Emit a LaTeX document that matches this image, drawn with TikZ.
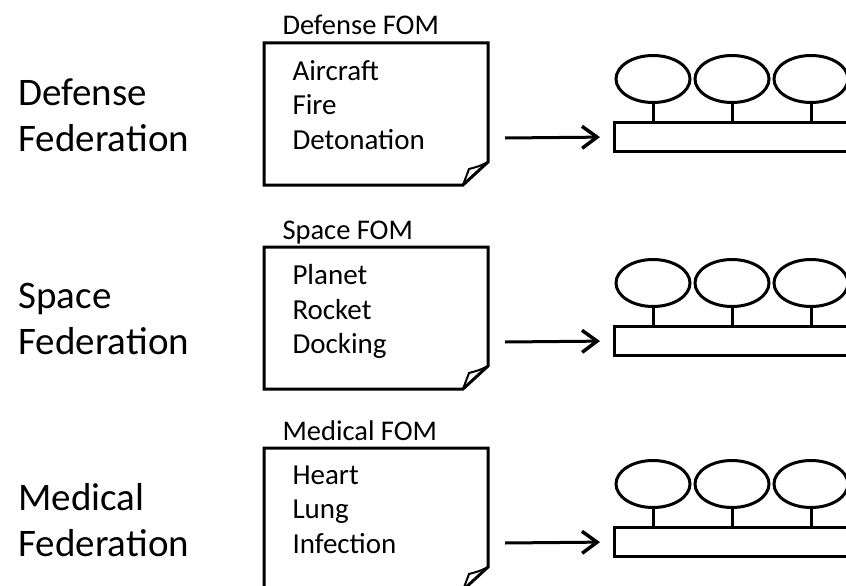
\documentclass[tikz,border=0pt]{standalone}
\usepackage{fontspec}
\setmainfont{Carlito}
\usetikzlibrary{shapes.geometric,arrows.meta,positioning}

\tikzset{
  fedlabel/.style={align=left, anchor=west, inner sep=0pt, font=\fontsize{39}{46}\selectfont},
  fomlabel/.style={anchor=base west, inner sep=0pt, font=\fontsize{28.5}{34}\selectfont},
  itemlabel/.style={align=left, anchor=north west, inner sep=0pt, font=\fontsize{29}{34.5}\selectfont},
  docbox/.style={anchor=north west, inner sep=0pt, minimum width=221pt, minimum height=139pt},
  busbar/.style={draw, anchor=west, inner sep=0pt, minimum width=260pt, minimum height=29pt},
  fedobj/.style={draw, ellipse, inner sep=0pt, minimum width=74pt, minimum height=47pt},
}

\begin{document}
\begin{tikzpicture}[x=1pt, y=-1pt, >={Straight Barb[length=15pt,width=22pt,line width=3.5pt]}, line width=3pt]
  \useasboundingbox (0,0) rectangle (846,586);

  \foreach \r/\t/\fa/\fb/\fom/\ia/\ib/\ic in {
      a/43/Defense/Federation/Defense FOM/Aircraft/Fire/Detonation,
      b/247/Space/Federation/Space FOM/Planet/Rocket/Docking,
      c/448/Medical/Federation/Medical FOM/Heart/Lung/Infection}{
    % federation name
    \node[fedlabel] (fed\r) at (17,\t+72) {\fa\\\fb};

    % FOM document
    \node[docbox] (doc\r) at (264,\t) {};
    \draw (doc\r.north west) -- (doc\r.north east) -- ([yshift=23pt]doc\r.south east)
      -- ([xshift=-25pt]doc\r.south east) -- (doc\r.south west) -- cycle;
    \draw[line width=2pt] ([yshift=23pt]doc\r.south east)
      .. controls ([xshift=-8pt,yshift=19pt]doc\r.south east) .. ([xshift=-19pt,yshift=16pt]doc\r.south east)
      -- ([xshift=-25pt]doc\r.south east);
    \node[fomlabel] (fom\r) at (281,\t-8) {\fom};
    \node[itemlabel] (items\r) at (291,\t+16) {\ia\\\ib\\\ic};

    % federates on the bus
    \node[busbar] (bus\r) at (613,\t+94) {};
    \foreach \k/\x in {1/653,2/732,3/811}{
      \node[fedobj] (obj\r\k) at (\x,\t+36) {};
      \draw (obj\r\k.south) -- (obj\r\k.south |- bus\r.north);
    }

    \coordinate (in\r) at (505,\t+95);
    \draw[->, shorten >=13pt] (in\r) -- (bus\r.west);
  }
\end{tikzpicture}
\end{document}
